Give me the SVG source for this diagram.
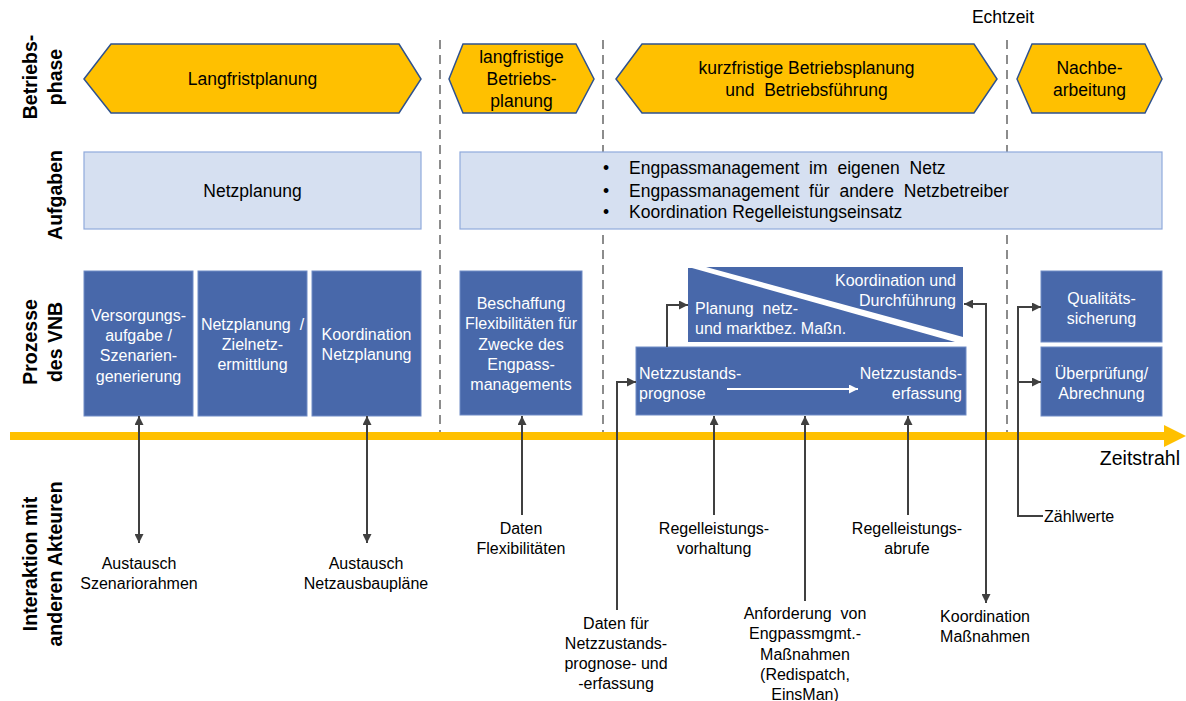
<svg xmlns="http://www.w3.org/2000/svg" width="1186" height="701" viewBox="0 0 1186 701">
  <style>
    text { font-family: "Liberation Sans", Arial, sans-serif; fill: #000; }
    .row { font-size: 19.5px; font-weight: bold; text-anchor: middle; }
    .phase { fill: #FFC000; stroke: #2F528F; stroke-width: 1.5; }
    .ph { font-size: 17.5px; text-anchor: middle; }
    .task { fill: #D6E0F1; stroke: #8FAADC; stroke-width: 1.2; }
    .tk { font-size: 17.5px; }
    .proc { fill: #4868AA; stroke: #6F8BC6; stroke-width: 1; }
    .pt { font-size: 16px; fill: #fff; text-anchor: middle; }
    .pl { font-size: 16px; fill: #fff; }
    .lbl { font-size: 16px; text-anchor: middle; }
    .sep { stroke: #8C8C8C; stroke-width: 2; stroke-dasharray: 9 6; fill: none; }
    .con { stroke: #404040; stroke-width: 2; fill: none; }
    .one { marker-end: url(#ah); }
    .two { marker-start: url(#ah); marker-end: url(#ah); }
  </style>
  <defs>
    <marker id="ah" viewBox="0 0 10 10" refX="10" refY="5" markerWidth="10" markerHeight="9" markerUnits="userSpaceOnUse" orient="auto-start-reverse">
      <path d="M0,0 L10,5 L0,10 z" fill="#404040"/>
    </marker>
    <marker id="wh" viewBox="0 0 10 10" refX="10" refY="5" markerWidth="10" markerHeight="9" markerUnits="userSpaceOnUse" orient="auto">
      <path d="M0,0 L10,5 L0,10 z" fill="#fff"/>
    </marker>
  </defs>

  <!-- row captions -->
  <g id="row-labels">
    <text class="row" transform="rotate(-90)" x="-77" y="37">Betriebs-</text>
    <text class="row" transform="rotate(-90)" x="-77" y="62">phase</text>
    <text class="row" transform="rotate(-90)" x="-195" y="62">Aufgaben</text>
    <text class="row" transform="rotate(-90)" x="-342" y="37">Prozesse</text>
    <text class="row" transform="rotate(-90)" x="-342" y="62">des VNB</text>
    <text class="row" transform="rotate(-90)" x="-564" y="37">Interaktion mit</text>
    <text class="row" transform="rotate(-90)" x="-564" y="62">anderen Akteuren</text>
  </g>

  <!-- phase separators -->
  <g id="separators">
    <line class="sep" x1="440" y1="40" x2="440" y2="436"/>
    <line class="sep" x1="603" y1="40" x2="603" y2="436"/>
    <line class="sep" x1="1007" y1="40" x2="1007" y2="436"/>
    <text class="ph" x="1003" y="23">Echtzeit</text>
  </g>

  <!-- operating phases -->
  <g id="phase-langfrist">
    <polygon class="phase" points="84,79 111,44 399,44 421,79 399,113 111,113"/>
    <text class="ph" x="252.5" y="85">Langfristplanung</text>
  </g>
  <g id="phase-langfristige-betriebsplanung">
    <polygon class="phase" points="449,79 463,44 576,44 594,79 576,113 463,113"/>
    <text class="ph" x="521.5" y="63">langfristige</text>
    <text class="ph" x="521.5" y="85">Betriebs-</text>
    <text class="ph" x="521.5" y="107">planung</text>
  </g>
  <g id="phase-kurzfristig">
    <polygon class="phase" points="616,79 642,44 974,44 997,79 974,113 642,113"/>
    <text class="ph" x="806.5" y="74">kurzfristige Betriebsplanung</text>
    <text class="ph" x="806.5" y="96" xml:space="preserve">und  Betriebsführung</text>
  </g>
  <g id="phase-nachbearbeitung">
    <polygon class="phase" points="1017,79 1032,44 1145,44 1162,79 1145,113 1032,113"/>
    <text class="ph" x="1089.5" y="74">Nachbe-</text>
    <text class="ph" x="1089.5" y="96">arbeitung</text>
  </g>

  <!-- tasks -->
  <g id="task-netzplanung">
    <rect class="task" x="84" y="152" width="337" height="77"/>
    <text class="tk" x="252.5" y="197" text-anchor="middle">Netzplanung</text>
  </g>
  <g id="task-engpass">
    <rect class="task" x="460" y="152" width="702" height="77"/>
    <text class="tk" x="603" y="174">•</text>
    <text class="tk" x="629" y="174" word-spacing="5">Engpassmanagement im eigenen Netz</text>
    <text class="tk" x="603" y="197">•</text>
    <text class="tk" x="629" y="197" word-spacing="5">Engpassmanagement für andere Netzbetreiber</text>
    <text class="tk" x="603" y="218">•</text>
    <text class="tk" x="629" y="218">Koordination Regelleistungseinsatz</text>
  </g>

  <!-- processes -->
  <g id="proc-versorgungsaufgabe">
    <rect class="proc" x="84" y="271" width="109" height="145"/>
    <text class="pt" x="138.5" y="321">Versorgungs-</text>
    <text class="pt" x="138.5" y="341">aufgabe /</text>
    <text class="pt" x="138.5" y="361">Szenarien-</text>
    <text class="pt" x="138.5" y="382">generierung</text>
  </g>
  <g id="proc-zielnetz">
    <rect class="proc" x="198" y="271" width="109" height="145"/>
    <text class="pt" x="252.5" y="330" xml:space="preserve">Netzplanung  /</text>
    <text class="pt" x="252.5" y="350">Zielnetz-</text>
    <text class="pt" x="252.5" y="370">ermittlung</text>
  </g>
  <g id="proc-koordination-netzplanung">
    <rect class="proc" x="312" y="271" width="109" height="145"/>
    <text class="pt" x="366.5" y="340">Koordination</text>
    <text class="pt" x="366.5" y="360">Netzplanung</text>
  </g>
  <g id="proc-beschaffung">
    <rect class="proc" x="460" y="271" width="122" height="144"/>
    <text class="pt" x="521" y="309">Beschaffung</text>
    <text class="pt" x="521" y="329">Flexibilitäten für</text>
    <text class="pt" x="521" y="350">Zwecke des</text>
    <text class="pt" x="521" y="370">Engpass-</text>
    <text class="pt" x="521" y="390">managements</text>
  </g>
  <g id="proc-massnahmen">
    <polygon points="688,268 692,268 955,342 688,342" fill="#4868AA"/>
    <polygon points="706,267 963,267 963,337" fill="#4868AA"/>
    <text class="pl" x="956" y="286" text-anchor="end">Koordination und</text>
    <text class="pl" x="956" y="306" text-anchor="end">Durchführung</text>
    <text class="pl" x="695" y="314" xml:space="preserve">Planung  netz-</text>
    <text class="pl" x="695" y="334">und marktbez. Maßn.</text>
  </g>
  <g id="proc-netzzustand">
    <rect class="proc" x="636" y="347" width="330" height="68"/>
    <text class="pl" x="639" y="379">Netzzustands-</text>
    <text class="pl" x="639" y="399">prognose</text>
    <text class="pl" x="962" y="379" text-anchor="end">Netzzustands-</text>
    <text class="pl" x="962" y="399" text-anchor="end">erfassung</text>
    <line x1="727" y1="389" x2="858" y2="389" stroke="#fff" stroke-width="2" marker-end="url(#wh)"/>
  </g>
  <g id="proc-qualitaet">
    <rect class="proc" x="1041" y="271" width="121" height="71"/>
    <text class="pt" x="1101.5" y="304">Qualitäts-</text>
    <text class="pt" x="1101.5" y="324">sicherung</text>
  </g>
  <g id="proc-abrechnung">
    <rect class="proc" x="1041" y="347" width="121" height="69"/>
    <text class="pt" x="1101.5" y="379">Überprüfung/</text>
    <text class="pt" x="1101.5" y="399">Abrechnung</text>
  </g>

  <!-- time axis -->
  <g id="zeitstrahl">
    <rect x="10" y="432" width="1156" height="8" fill="#FFC000"/>
    <polygon points="1164,425 1186,436 1164,447" fill="#FFC000"/>
    <text x="1180" y="465" font-size="19.5" text-anchor="end">Zeitstrahl</text>
  </g>

  <!-- connectors -->
  <g id="connectors">
    <path class="con two" d="M139,416 V543"/>
    <path class="con two" d="M367,416 V543"/>
    <path class="con one" d="M522,515 V416"/>
    <path class="con one" d="M617,610 V382 H636"/>
    <path class="con one" d="M667,347 V305 H688"/>
    <path class="con one" d="M714,515 V416"/>
    <path class="con one" d="M805,601 V416"/>
    <path class="con one" d="M908,515 V416"/>
    <path class="con two" d="M964,304 H986 V603"/>
    <path class="con one" d="M1043,516 H1018 V307 H1041"/>
    <path class="con one" d="M1018,382 H1041"/>
  </g>

  <!-- interaction labels -->
  <g id="interaction-labels">
    <text class="lbl" x="139" y="569">Austausch</text>
    <text class="lbl" x="139" y="589">Szenariorahmen</text>
    <text class="lbl" x="366" y="569">Austausch</text>
    <text class="lbl" x="366" y="589">Netzausbaupläne</text>
    <text class="lbl" x="521" y="534">Daten</text>
    <text class="lbl" x="521" y="554">Flexibilitäten</text>
    <text class="lbl" x="616" y="629">Daten für</text>
    <text class="lbl" x="616" y="649">Netzzustands-</text>
    <text class="lbl" x="616" y="669">prognose- und</text>
    <text class="lbl" x="616" y="689">-erfassung</text>
    <text class="lbl" x="714" y="534">Regelleistungs-</text>
    <text class="lbl" x="714" y="554">vorhaltung</text>
    <text class="lbl" x="805" y="619" xml:space="preserve">Anforderung  von</text>
    <text class="lbl" x="805" y="639">Engpassmgmt.-</text>
    <text class="lbl" x="805" y="660">Maßnahmen</text>
    <text class="lbl" x="805" y="680">(Redispatch,</text>
    <text class="lbl" x="805" y="700">EinsMan)</text>
    <text class="lbl" x="907" y="534">Regelleistungs-</text>
    <text class="lbl" x="907" y="554">abrufe</text>
    <text class="lbl" x="985" y="622">Koordination</text>
    <text class="lbl" x="985" y="642">Maßnahmen</text>
    <text x="1044" y="522" font-size="16">Zählwerte</text>
  </g>
</svg>
